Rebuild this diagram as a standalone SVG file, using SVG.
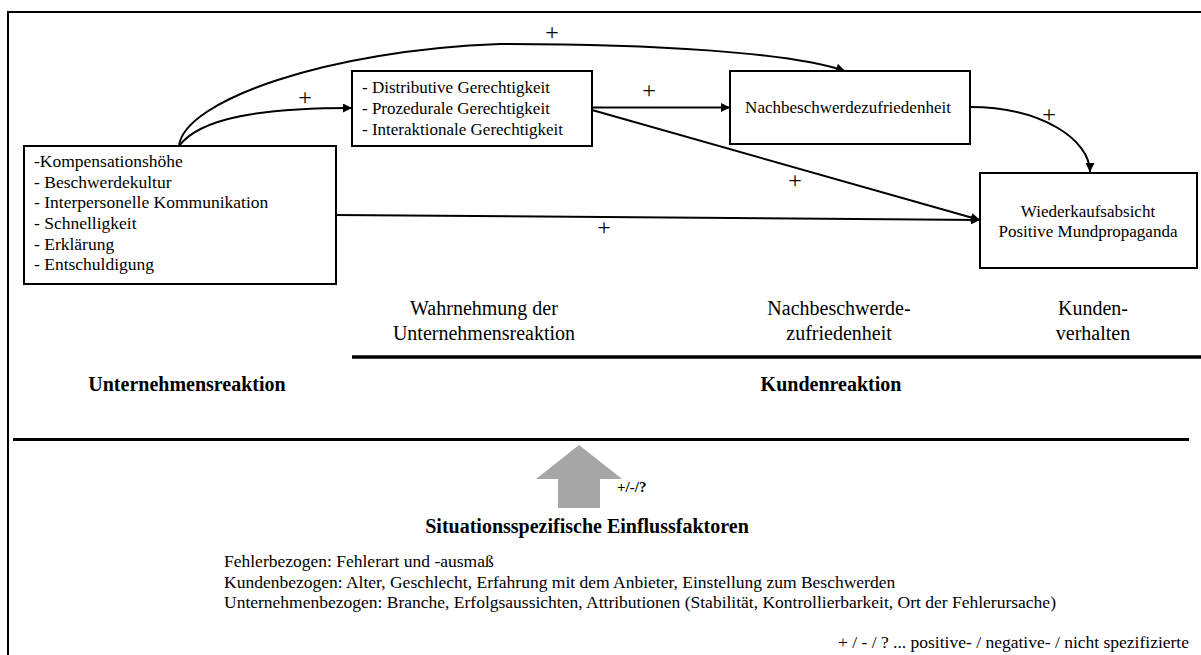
<svg xmlns="http://www.w3.org/2000/svg" width="1201" height="655" viewBox="0 0 1201 655">
<defs>
<style>
.t{font-family:"Liberation Serif","Times New Roman",serif;fill:#000;}
.box{fill:#fff;stroke:#000;stroke-width:2;}
.bt{font-size:17px;}
.bt1{font-size:17.5px;}
.h{font-size:20px;text-anchor:middle;}
.hb{font-size:20px;font-weight:bold;text-anchor:middle;}
.pl{font-size:24px;text-anchor:middle;}
.c{fill:none;stroke:#000;stroke-width:2;}
.rule{stroke:#000;fill:none;}
</style>
<marker id="ah" viewBox="0 0 10 10" refX="10" refY="5" markerWidth="10" markerHeight="9" markerUnits="userSpaceOnUse" orient="auto">
<path d="M0,0 L10,5 L0,10 Z" fill="#000"/>
</marker>
</defs>
<rect width="1201" height="655" fill="#fff"/>
<path class="rule" d="M8,655 V12 H1201" stroke-width="2"/>

<g id="connectors">
<path class="c" d="M179,146 C184,100 330,50 500,44 C650,44 790,52 845,71" marker-end="url(#ah)"/>
<path class="c" d="M179,146 C200,118 260,108 352,108" marker-end="url(#ah)"/>
<path class="c" d="M592,107.5 L730,107.5" marker-end="url(#ah)"/>
<path class="c" d="M592,110 L980,220" stroke-width="1.5" marker-end="url(#ah)"/>
<path class="c" d="M336,215 L980,220" marker-end="url(#ah)"/>
<path class="c" d="M970,107 C1042,107 1090,140 1090,172" marker-end="url(#ah)"/>
<text class="t pl" x="552" y="40">+</text>
<text class="t pl" x="305" y="105">+</text>
<text class="t pl" x="649" y="98">+</text>
<text class="t pl" x="795" y="188">+</text>
<text class="t pl" x="604" y="235">+</text>
<text class="t pl" x="1049" y="122">+</text>
</g>

<g id="unternehmensreaktion-box">
<rect class="box" x="24" y="146" width="312" height="138"/>
<text class="t bt1" x="34" y="167">-Kompensationshöhe</text>
<text class="t bt1" x="34" y="187.7">- Beschwerdekultur</text>
<text class="t bt1" x="34" y="208.4">- Interpersonelle Kommunikation</text>
<text class="t bt1" x="34" y="229">- Schnelligkeit</text>
<text class="t bt1" x="34" y="249.7">- Erklärung</text>
<text class="t bt1" x="34" y="270.4">- Entschuldigung</text>
</g>

<g id="gerechtigkeit-box">
<rect class="box" x="352" y="71" width="240" height="75"/>
<text class="t bt" x="362" y="93">- Distributive Gerechtigkeit</text>
<text class="t bt" x="362" y="114">- Prozedurale Gerechtigkeit</text>
<text class="t bt" x="362" y="135">- Interaktionale Gerechtigkeit</text>
</g>

<g id="zufriedenheit-box">
<rect class="box" x="730" y="71" width="240" height="73"/>
<text class="t bt" x="848" y="113" text-anchor="middle">Nachbeschwerdezufriedenheit</text>
</g>

<g id="verhalten-box">
<rect class="box" x="980" y="173" width="217" height="95"/>
<text class="t bt" x="1088" y="217" text-anchor="middle">Wiederkaufsabsicht</text>
<text class="t bt" x="1088" y="237" text-anchor="middle">Positive Mundpropaganda</text>
</g>

<g id="phase-labels">
<text class="t h" x="484" y="315">Wahrnehmung der</text>
<text class="t h" x="484" y="340">Unternehmensreaktion</text>
<text class="t h" x="839" y="315">Nachbeschwerde-</text>
<text class="t h" x="839" y="340">zufriedenheit</text>
<text class="t h" x="1093" y="315">Kunden-</text>
<text class="t h" x="1093" y="340">verhalten</text>
<path class="rule" d="M352,357 H1201" stroke-width="3.5"/>
<text class="t hb" x="187" y="391">Unternehmensreaktion</text>
<text class="t hb" x="831" y="391">Kundenreaktion</text>
<path class="rule" d="M13,439.5 H1189" stroke-width="3"/>
</g>

<g id="einflussfaktoren">
<polygon points="579,445 622,479 600,479 600,508 558,508 558,479 536,479" fill="#a6a6a6"/>
<text class="t" x="617" y="492" font-size="15" font-weight="bold">+/-/?</text>
<text class="t hb" x="587" y="533">Situationsspezifische Einflussfaktoren</text>
<text class="t bt1" x="224" y="567">Fehlerbezogen: Fehlerart und -ausmaß</text>
<text class="t bt1" x="224" y="588">Kundenbezogen: Alter, Geschlecht, Erfahrung mit dem Anbieter, Einstellung zum Beschwerden</text>
<text class="t bt1" x="224" y="608">Unternehmenbezogen: Branche, Erfolgsaussichten, Attributionen (Stabilität, Kontrollierbarkeit, Ort der Fehlerursache)</text>
<text class="t bt1" x="1189" y="648" text-anchor="end">+ / - / ? ... positive- / negative- / nicht spezifizierte</text>
</g>
</svg>
